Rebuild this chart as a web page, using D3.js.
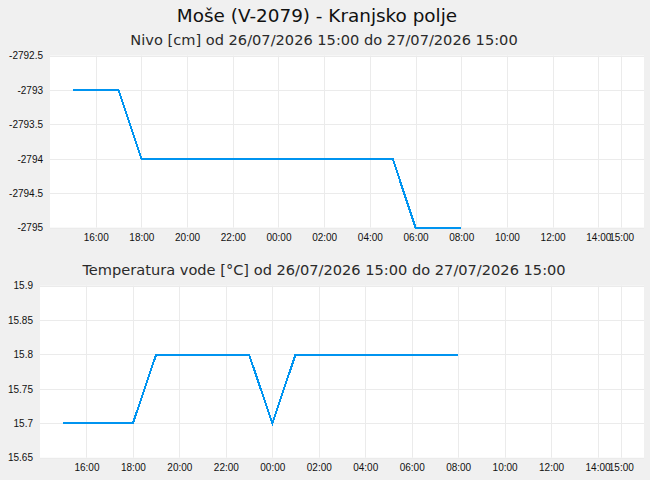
<!DOCTYPE html>
<html>
<head>
<meta charset="utf-8">
<script src="https://cdn.jsdelivr.net/npm/d3@7"></script>
<style>
  body { margin: 0; background: #f0f0f0; }
  svg { display: block; font-family: "DejaVu Sans", sans-serif; }
  .tick text { font-size: 10px; fill: #111; }
</style>
</head>
<body>
<svg id="chart" width="650" height="480"></svg>
<script>
// --- data (hourly readings, 26/07/2026 15:00 .. 27/07/2026 08:00) ---
const hours = [
  "2026-07-26 15", "2026-07-26 16", "2026-07-26 17", "2026-07-26 18",
  "2026-07-26 19", "2026-07-26 20", "2026-07-26 21", "2026-07-26 22",
  "2026-07-26 23", "2026-07-27 00", "2026-07-27 01", "2026-07-27 02",
  "2026-07-27 03", "2026-07-27 04", "2026-07-27 05", "2026-07-27 06",
  "2026-07-27 07", "2026-07-27 08"
];
const nivo = [
  -2793, -2793, -2793, -2794, -2794, -2794, -2794, -2794, -2794,
  -2794, -2794, -2794, -2794, -2794, -2794, -2795, -2795, -2795
];
const temperatura = [
  15.7, 15.7, 15.7, 15.7, 15.8, 15.8, 15.8, 15.8, 15.8,
  15.7, 15.8, 15.8, 15.8, 15.8, 15.8, 15.8, 15.8, 15.8
];
const nivoTicks = [-2795, -2794.5, -2794, -2793.5, -2793, -2792.5];
const tempTicks = [15.65, 15.7, 15.75, 15.8, 15.85, 15.9];

const title = "Moše (V-2079) - Kranjsko polje";
const nivoTitle = "Nivo [cm] od 26/07/2026 15:00 do 27/07/2026 15:00";
const tempTitle = "Temperatura vode [°C] od 26/07/2026 15:00 do 27/07/2026 15:00";

const parseHour = d3.timeParse("%Y-%m-%d %H");
const times = hours.map(parseHour);
const domainStart = parseHour("2026-07-26 14");
const domainEnd = parseHour("2026-07-27 16");
const rangeEnd = parseHour("2026-07-27 15");

const svg = d3.select("#chart");
const W = 650;

svg.append("text")
  .attr("x", 317).attr("y", 21.5)
  .attr("text-anchor", "middle")
  .style("font-size", "18.4px").attr("fill", "#111")
  .text(title);

function panel(top, left, subtitle, values, yTicks) {
  const plotTop = top, plotBottom = top + 172;
  const right = 644;

  svg.append("text")
    .attr("x", 324).attr("y", top - 10.5)
    .attr("text-anchor", "middle")
    .style("font-size", "14.6px").attr("fill", "#2a2a2a")
    .text(subtitle);

  svg.append("rect")
    .attr("x", left).attr("y", plotTop)
    .attr("width", right - left).attr("height", plotBottom - plotTop)
    .attr("fill", "#fff");

  const x = d3.scaleTime().domain([domainStart, domainEnd]).range([left, right]);
  const y = d3.scaleLinear().domain([yTicks[0], yTicks[yTicks.length - 1]])
    .range([plotBottom, plotTop]);

  const xTicks = d3.timeHour.every(2).range(parseHour("2026-07-26 16"), rangeEnd).concat([rangeEnd]);

  // grid
  svg.append("g")
    .selectAll("line.v").data(xTicks).join("line")
    .attr("x1", d => Math.round(x(d)) + 0.5).attr("x2", d => Math.round(x(d)) + 0.5)
    .attr("y1", plotTop).attr("y2", plotBottom)
    .attr("stroke", "#ebebeb");
  svg.append("g")
    .selectAll("line.h").data(yTicks).join("line")
    .attr("x1", left).attr("x2", right)
    .attr("y1", d => Math.round(y(d)) + 0.5).attr("y2", d => Math.round(y(d)) + 0.5)
    .attr("stroke", "#ebebeb");

  const xAxis = svg.append("g")
    .attr("transform", `translate(0,${plotBottom})`)
    .call(d3.axisBottom(x).tickValues(xTicks).tickFormat(d3.timeFormat("%H:%M")).tickSize(0).tickPadding(6));
  xAxis.select(".domain").remove();

  const yAxis = svg.append("g")
    .attr("transform", `translate(${left},0)`)
    .call(d3.axisLeft(y).tickValues(yTicks).tickFormat(d => String(d)).tickSize(0).tickPadding(7));
  yAxis.select(".domain").remove();

  const line = d3.line()
    .x((d, i) => x(times[i]))
    .y(d => y(d));

  svg.append("path")
    .datum(values)
    .attr("d", line)
    .attr("fill", "none")
    .attr("stroke", "#0094f0")
    .attr("stroke-width", 2)
    .attr("shape-rendering", "crispEdges");
}

panel(55.6, 50, nivoTitle, nivo, nivoTicks);
panel(285.7, 40, tempTitle, temperatura, tempTicks);
</script>
</body>
</html>
